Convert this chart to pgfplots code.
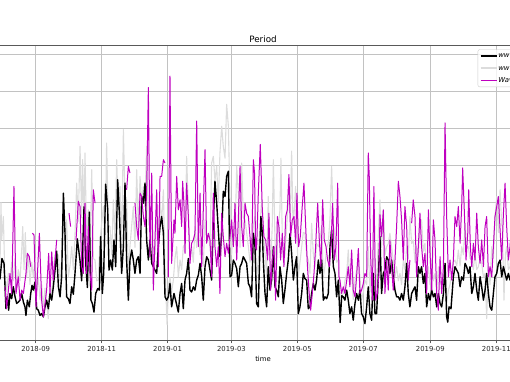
\documentclass[border=0pt]{standalone}
\usepackage{fontspec}
\setmainfont{DejaVu Sans}
\usepackage{pgfplots}
\usepackage{pgfplotstable}
\pgfplotsset{compat=1.18}
\definecolor{mplmag}{HTML}{BF00BF}
\definecolor{lgray}{HTML}{DCDCDC}

% x = days since 2018-09-01, y = value
\pgfplotstableread{
d v
-37 0.8
-34.5 0.9
-33.0 0.96
-31.2 1.50
-29.3 1.37
-27.5 0.15
-26.2 0.47
-25.0 0.11
-23.8 0.56
-22.2 0.42
-20.7 0.74
-19.1 0.47
-17.6 0.29
-16.1 0.33
-14.5 0.38
-13.0 0.56
-11.4 0.33
-9.9 0.20
-9.0 -0.03
-7.7 0.38
-5.9 0.20
-4.6 0.56
-3.4 0.78
-2.2 0.65
-0.6 0.87
0.9 0.15
2.4 0.11
4.0 -0.03
5.5 0.02
7.1 -0.07
8.6 0.20
10.1 0.38
11.7 0.15
13.2 0.56
14.8 0.38
16.3 0.74
17.9 1.20
19.4 1.70
21.0 0.74
22.5 0.47
24.0 1.01
25.6 3.26
27.1 2.18
28.6 0.47
30.2 0.42
31.7 0.29
33.3 0.74
34.8 0.54
36.3 1.08
38.5 2.03
41.0 1.44
42.5 0.90
44.7 2.89
46.5 1.26
47.8 0.72
49.6 2.75
51.1 0.38
52.4 0.29
53.9 0.06
55.5 0.56
57.3 0.69
58.9 0.65
60.1 2.09
61.6 0.56
62.9 1.10
64.7 3.50
66.6 2.81
67.8 1.19
69.3 1.46
70.9 1.19
72.4 2.00
74.0 1.28
75.8 3.62
77.4 2.72
79.5 1.10
81.1 1.82
82.6 3.53
84.1 1.46
85.7 0.38
87.2 1.46
88.8 1.73
90.3 1.46
91.8 1.10
93.4 1.46
94.9 1.55
96.5 1.10
98.0 3.17
99.6 2.99
101.1 3.53
102.6 2.00
104.2 1.46
105.7 2.00
107.3 1.37
108.8 1.28
110.3 1.19
111.9 1.10
113.4 1.82
115.0 2.36
116.5 2.63
118.1 2.18
119.6 0.47
121.1 0.38
122.7 0.47
124.2 0.83
125.7 0.20
127.9 0.56
129.8 0.33
131.9 0.06
133.5 0.56
135.0 0.83
136.5 0.15
138.1 0.92
139.6 1.10
141.2 1.50
142.7 0.65
144.2 0.60
145.8 0.74
147.3 0.65
148.9 0.92
150.4 1.05
152.0 1.37
153.5 1.01
155.0 0.38
156.6 1.28
158.1 1.55
159.7 1.46
161.2 1.19
162.7 0.92
164.3 2.54
165.8 3.58
167.4 2.99
168.9 2.27
170.4 1.55
172.0 2.14
173.5 3.31
175.1 3.17
176.6 3.71
178.2 3.85
179.7 1.01
181.2 1.05
182.8 1.46
184.3 1.37
185.9 1.23
187.4 0.74
189.0 1.28
190.5 1.37
192.0 1.55
193.6 1.46
195.1 1.37
196.7 0.83
198.2 0.74
199.7 0.47
201.3 2.18
202.8 1.82
204.3 0.29
205.9 0.20
207.4 1.82
208.3 2.63
209.6 2.18
210.5 1.46
212.1 0.56
213.6 0.20
215.1 1.28
216.7 0.65
218.2 0.92
219.8 1.82
221.3 0.74
222.8 0.65
224.4 0.47
225.9 1.28
227.5 0.92
229.0 0.29
230.5 0.65
232.1 1.10
233.6 1.46
235.2 2.18
236.7 1.64
238.3 0.92
239.8 1.28
241.3 1.55
242.9 0.02
244.4 0.20
246.0 0.56
247.5 1.10
249.0 0.96
250.6 0.92
252.1 0.15
253.7 0.20
255.2 0.56
256.8 0.83
258.3 0.65
259.8 0.92
261.4 1.46
262.9 1.10
264.5 1.46
266.0 0.38
267.5 0.47
269.1 0.42
270.6 0.56
272.2 1.82
273.7 2.27
275.3 1.28
276.8 1.10
278.3 0.47
279.9 0.92
281.6 -0.22
283.0 0.50
284.5 0.47
286.0 0.38
287.6 0.65
289.1 0.38
290.6 0.02
292.2 0.20
293.7 -0.16
295.3 0.29
296.8 0.56
298.4 0.38
299.9 0.65
301.4 0.02
303.0 -0.07
304.5 -0.25
306.1 0.20
307.6 0.74
309.1 0.02
310.7 -0.16
312.2 1.10
313.8 0.02
315.3 0.02
316.9 1.01
318.4 2.09
319.9 0.56
321.5 1.10
323.0 1.19
324.6 1.55
326.1 1.46
327.6 1.10
329.2 1.46
330.7 1.01
332.3 0.65
333.8 0.47
335.4 0.47
336.9 0.38
338.4 0.56
340.0 0.38
341.5 0.74
343.1 1.37
344.6 0.56
346.1 0.20
347.7 0.56
349.2 0.65
350.8 0.74
352.3 0.38
353.9 1.28
355.4 1.10
356.9 1.28
358.5 0.83
360.0 1.10
361.6 0.20
363.2 0.56
364.7 0.38
366.3 0.65
367.8 0.47
369.3 0.56
370.9 0.20
372.4 0.56
374.0 0.29
375.5 0.20
377.1 0.56
378.6 1.37
380.1 -0.07
381.1 -0.21
382.3 0.20
384.1 0.15
386.3 1.01
387.8 1.28
389.4 1.19
390.9 1.10
392.5 0.74
394.0 1.01
395.6 0.92
397.1 1.37
398.6 1.28
400.2 1.10
401.7 1.28
403.3 0.56
404.8 0.74
406.3 1.10
407.9 0.65
409.4 0.38
411.0 1.01
412.5 0.74
414.1 0.38
415.6 0.65
417.1 1.10
418.7 0.56
420.2 0.20
421.8 0.11
423.3 0.56
424.8 1.01
426.4 1.10
427.9 1.37
429.5 1.46
431.0 1.01
432.6 1.28
434.1 1.10
435.6 0.92
437.2 1.10
438.7 0.92
440.3 1.20
442.0 0.80
}\blackdata

\pgfplotstableread{
d v
-36 1.5
-33.0 1.3
-32.1 3.0
-31.5 2.0
-29.9 2.63
-28.7 1.2
-26.9 0.6
-25.3 1.1
-23.8 0.8
-22.2 1.4
-20.7 0.9
-19.1 1.5
-17.6 0.7
-16.1 1.2
-14.5 0.9
-13.0 1.7
-12.0 2.36
-10.8 1.2
-9.6 2.2
-8.4 1.0
-6.8 1.6
-5.3 0.8
-3.7 1.4
-2.2 1.0
-0.6 1.5
0.9 0.6
2.4 1.0
4.0 0.4
5.5 0.8
7.1 0.2
8.6 0.7
10.1 0.3
11.7 -0.12
13.2 0.8
14.8 0.5
16.3 1.2
17.9 1.6
19.4 1.3
21.0 1.6
22.5 0.9
24.0 1.5
25.6 2.8
27.1 1.6
28.6 2.54
30.2 1.0
31.7 1.3
33.3 1.82
34.8 1.2
36.4 2.2
37.9 3.53
39.4 2.5
41.0 4.52
42.5 2.6
43.4 4.16
44.7 2.4
45.6 4.34
47.1 2.0
48.7 2.81
50.2 1.4
51.8 3.89
53.3 1.5
54.9 1.46
56.4 0.9
57.9 0.92
59.5 2.0
62.6 2.9
64.1 1.8
65.6 4.61
67.2 2.4
68.7 2.36
70.3 1.6
71.8 3.08
73.3 2.0
74.9 4.16
76.4 2.8
78.0 3.44
79.5 1.8
81.1 4.97
82.6 3.0
84.1 3.08
85.7 1.2
87.2 1.82
88.8 2.4
90.3 2.9
91.8 1.8
93.4 3.89
94.9 2.3
96.5 3.71
98.0 3.0
99.6 3.44
101.1 3.0
102.6 4.52
104.2 2.4
105.7 2.63
107.3 1.9
108.8 1.82
110.3 1.6
111.9 2.54
113.4 2.2
115.0 2.99
116.5 2.5
118.1 3.35
119.6 1.2
121.5 -0.28
123.0 0.8
124.2 1.0
125.7 0.6
127.3 0.92
128.8 1.5
130.4 1.82
131.9 1.0
133.5 1.46
135.0 1.2
136.5 1.82
138.1 1.9
139.6 4.25
141.2 2.81
142.7 1.6
144.2 1.82
145.8 1.4
147.3 2.36
148.9 1.8
150.4 2.18
152.0 1.6
153.5 1.82
155.0 1.3
156.6 2.54
158.1 2.0
159.7 2.18
161.2 1.8
162.7 4.07
164.3 4.25
165.8 3.6
167.4 3.98
168.9 3.0
170.4 4.34
172.0 5.06
173.5 4.52
175.1 4.2
176.6 5.65
178.2 5.06
179.7 3.08
181.2 1.6
182.8 2.36
184.3 2.0
185.9 3.98
187.4 3.26
189.0 1.8
190.5 4.07
192.0 2.6
193.6 2.54
195.1 2.2
196.7 1.82
198.2 1.4
199.7 1.64
201.3 2.4
202.8 2.63
204.3 1.0
205.9 1.46
207.4 2.4
209.0 3.08
210.5 2.2
212.1 1.64
213.6 1.0
215.1 3.17
216.7 1.6
217.6 1.46
218.8 2.4
219.8 4.16
221.3 2.0
222.8 1.2
224.4 2.36
225.9 2.8
226.8 4.2
228.1 2.0
229.0 1.46
230.5 1.6
232.1 2.36
234.2 3.26
235.5 2.6
236.7 4.39
238.0 2.4
239.2 2.81
240.4 3.44
241.6 2.2
242.9 1.01
244.4 1.4
246.0 1.82
247.5 2.2
249.0 2.18
250.6 1.6
252.1 1.46
253.7 1.1
255.2 2.45
256.8 1.6
258.3 1.28
259.8 1.9
261.4 1.82
262.9 2.0
264.5 2.36
266.0 1.0
267.5 1.28
269.1 1.8
270.6 1.91
272.2 2.6
273.7 3.98
275.3 2.4
276.8 2.18
278.3 1.4
279.9 1.46
281.4 0.6
282.9 0.5
284.5 0.56
286.0 0.9
287.6 1.10
289.1 1.73
290.6 0.8
292.2 1.10
293.7 0.4
295.3 0.92
296.8 1.2
298.4 1.46
299.9 1.0
301.4 0.38
303.0 0.6
304.5 0.92
306.1 0.8
307.6 1.82
309.1 0.6
310.7 1.28
312.2 1.5
313.8 1.46
315.3 0.6
316.9 2.18
318.4 3.08
319.9 1.8
321.5 2.81
323.0 1.6
324.6 1.82
326.1 1.9
327.6 2.18
329.2 1.8
330.7 1.46
332.3 1.0
333.8 1.28
335.4 0.9
336.9 1.10
338.4 0.8
340.0 1.46
341.5 1.2
343.1 1.82
344.6 1.5
346.1 2.63
347.7 1.9
349.2 2.00
350.8 1.4
352.3 1.82
353.9 1.6
355.4 2.45
356.9 2.54
358.5 1.7
360.0 1.91
361.6 0.9
363.2 1.28
364.7 0.8
366.3 1.46
367.8 0.9
369.3 1.10
370.9 0.6
372.4 1.28
374.0 0.8
375.5 0.92
377.1 1.0
378.6 1.28
380.1 0.3
381.7 0.65
383.2 0.8
384.8 1.10
386.3 1.4
387.8 1.46
389.4 1.3
390.9 1.73
392.5 1.3
394.0 1.82
395.6 1.6
397.1 2.45
398.6 1.8
400.2 1.82
401.7 1.5
403.3 1.46
404.8 1.2
406.3 1.64
407.9 1.2
409.4 1.28
411.0 1.5
412.5 1.37
414.1 1.0
415.6 1.10
417.1 -0.12
418.7 1.28
420.2 0.8
421.8 1.82
423.3 1.5
424.8 2.63
426.4 3.17
427.9 2.2
429.5 3.35
431.0 2.4
431.6 2.36
433.1 0.38
434.4 1.6
435.6 1.82
437.2 1.2
438.7 1.28
440.3 1.9
442.0 1.3
}\graydata

\pgfplotstableread{
d v
-28.4 0.74
-26.9 0.15
-23.8 1.10
-22.2 0.56
-20.1 3.44
-18.2 0.56
-16.1 1.01
-14.5 0.38
-13.0 0.65
-11.4 0.56
-9.0 1.10
-7.7 1.64
-5.9 1.55
-4.6 1.28
-3.8 nan
-3.1 2.18
-1.6 2.14
0.3 0.20
1.8 1.20
3.4 2.18
5.5 0.38
7.1 -0.07
10.1 0.65
12.0 1.64
13.2 0.56
14.8 1.68
16.3 0.92
17.9 1.46
19.4 2.00
25.0 nan
30.8 2.72
32.3 2.36
35.0 nan
37.3 2.00
39.4 3.04
41.0 2.90
42.5 1.28
44.1 1.10
45.6 2.99
47.1 1.10
48.7 2.36
50.2 1.10
51.8 0.65
53.3 3.35
54.9 2.99
70.0 nan
84.1 3.35
85.7 3.98
87.2 3.80
89.5 nan
91.8 2.99
93.4 2.36
94.9 2.00
96.5 3.26
98.0 3.17
99.6 2.63
101.1 2.36
102.6 3.26
104.2 6.10
105.7 1.55
107.3 3.80
108.8 0.65
110.3 2.00
111.9 3.35
113.4 1.28
115.0 3.71
116.5 3.71
118.1 4.16
119.6 4.07
121.0 nan
122.7 1.00
124.2 6.41
125.7 1.37
127.9 2.54
128.8 2.18
130.4 3.71
131.9 2.81
133.5 3.08
135.0 2.36
135.9 3.58
137.1 2.99
138.1 1.64
139.6 3.53
141.2 2.63
142.7 1.37
144.2 1.91
145.8 2.00
147.3 2.18
148.9 5.20
150.4 1.82
152.0 3.26
153.5 1.28
155.0 2.81
156.6 4.43
158.1 1.91
159.7 2.18
161.2 2.00
162.7 1.01
164.3 3.26
165.8 1.82
167.4 1.28
168.9 1.82
170.4 0.56
172.0 2.72
173.5 2.09
175.1 1.55
176.6 1.91
178.2 1.64
179.7 2.09
181.2 2.54
182.8 1.82
184.3 2.99
185.9 1.46
187.4 2.54
189.0 3.98
190.5 2.36
192.0 1.82
193.6 2.99
195.1 2.72
196.7 2.63
198.2 2.09
199.7 1.46
201.3 4.16
202.4 3.80
203.4 1.82
204.3 1.73
205.9 3.26
207.7 4.57
209.6 2.81
211.1 2.09
212.7 2.00
214.5 1.46
215.7 2.72
217.3 0.65
218.8 1.46
220.4 1.82
221.9 0.38
223.5 2.63
225.0 2.36
226.5 1.46
228.1 2.18
229.6 1.28
231.2 2.63
232.7 2.81
234.2 3.76
235.8 2.09
237.3 2.54
238.9 2.63
240.4 1.91
241.6 3.26
243.2 1.82
244.7 2.09
246.3 2.81
248.1 3.53
249.7 2.36
251.2 1.37
252.7 0.65
254.3 0.11
255.8 0.56
257.4 1.10
258.9 1.82
260.8 2.99
262.3 2.00
263.8 1.28
265.4 3.08
266.9 2.00
268.5 1.82
270.0 1.46
271.6 1.28
273.1 1.82
274.6 2.99
276.2 1.46
277.7 1.82
279.3 3.53
280.5 1.01
281.4 0.92
282.9 0.56
284.5 0.74
286.0 0.56
287.6 0.90
289.1 1.28
290.6 0.74
292.2 1.73
293.7 0.65
295.3 0.47
296.8 1.01
298.4 1.77
299.9 0.56
301.4 0.65
303.0 0.83
304.5 1.10
306.1 1.01
307.6 4.34
308.5 3.71
309.8 1.55
311.3 0.38
312.8 3.44
314.4 0.38
315.9 0.56
317.5 1.10
318.4 2.68
319.9 2.09
321.5 2.81
323.0 0.56
324.6 1.46
326.1 0.65
327.6 2.00
329.2 1.28
330.7 0.65
332.3 1.46
333.8 2.36
335.4 3.58
336.9 3.17
338.4 2.54
340.0 1.46
341.5 2.90
343.1 2.36
344.6 0.92
346.1 1.46
346.9 nan
347.7 2.45
349.2 3.08
350.8 2.63
352.3 1.01
353.9 1.82
355.4 2.72
356.9 1.82
358.5 1.28
360.0 1.64
361.0 1.01
361.6 0.56
363.2 2.81
364.7 1.64
366.3 0.65
367.8 2.54
369.3 2.00
370.9 0.56
372.4 0.11
374.0 1.55
375.5 0.56
377.1 1.28
378.6 5.15
380.1 2.63
381.7 1.01
383.2 1.46
384.8 0.92
386.3 1.46
387.8 2.63
389.4 2.36
390.9 2.90
392.5 1.91
394.0 2.90
394.9 3.94
396.5 2.72
398.0 1.46
399.6 2.18
400.5 3.35
402.0 1.82
403.3 1.28
404.8 1.91
406.3 1.46
407.9 2.72
409.4 1.82
411.0 1.37
412.5 2.00
414.1 1.28
415.6 2.36
417.1 2.63
418.7 1.01
420.2 1.28
421.8 1.01
423.3 1.82
424.8 2.63
426.4 2.90
427.9 3.17
429.5 2.27
431.0 1.46
432.6 2.72
434.1 3.53
435.6 2.36
437.2 1.46
438.7 1.82
440.3 2.50
442.0 1.50
}\magdata

\begin{document}
\begin{tikzpicture}
\useasboundingbox (0,0) rectangle (510bp,382bp);
\clip (0,0) rectangle (510bp,382bp);
\begin{axis}[
  at={(-29.17bp,41.5bp)}, anchor=south west,
  x=1.0812bp, y=37.17bp,
  xmin=-60, xmax=480.5, ymin=-0.705, ymax=7.223,
  axis line style={black!65, line width=0.8bp},
  xtick={0,61,122,181,242,303,365,426},
  xticklabels={{\mbox{2018-09}},{\mbox{2018-11}},{\mbox{2019-01}},{\mbox{2019-03}},{\mbox{2019-05}},{\mbox{2019-07}},{\mbox{2019-09}},{\mbox{2019-11}}},
  ytick={0,1,2,3,4,5,6,7},
  yticklabels={},
  xtick pos=left, ytick pos=left,
  tick align=outside, major tick length=2.8bp,
  tick style={black!65, line width=0.6bp},
  xticklabel style={font=\fontsize{6.9}{8}\selectfont, text=black!85},
  grid=major,
  major grid style={color=black!24, line width=0.6bp},
  title={Period},
  title style={font=\fontsize{8.8}{10}\selectfont, yshift=-6bp},
  xlabel={time},
  xlabel style={font=\fontsize{6.9}{8}\selectfont, yshift=3bp},
  unbounded coords=jump,
  legend cell align=left,
  legend style={at={(0.8673,0.988)}, anchor=north west,
    font=\fontsize{6.9}{8}\selectfont,
    draw=black!20, rounded corners=2bp, fill=white, fill opacity=0.8, text opacity=1,
    inner sep=2bp, row sep=3.5bp,
    nodes={inner sep=1bp, text height=5.3bp, text depth=1.5bp}},
  legend image code/.code={\draw[#1] (0bp,0bp) -- (16bp,0bp);},
]
\addlegendimage{black, line width=1.5bp}
\addlegendentry{\textit{wwwwwwwww}}
\addlegendimage{lgray, line width=1.5bp}
\addlegendentry{\textit{wwwwwwwww}}
\addlegendimage{mplmag, line width=1bp}
\addlegendentry{\textit{Wavelet fit}}
\addplot[lgray, line width=1.1bp, line join=round, forget plot] table[x=d, y=v] {\graydata};
\addplot[black, line width=1.4bp, line join=round, forget plot] table[x=d, y=v] {\blackdata};
\addplot[mplmag, line width=1bp, line join=round, forget plot] table[x=d, y=v] {\magdata};
\end{axis}
\end{tikzpicture}
\end{document}
